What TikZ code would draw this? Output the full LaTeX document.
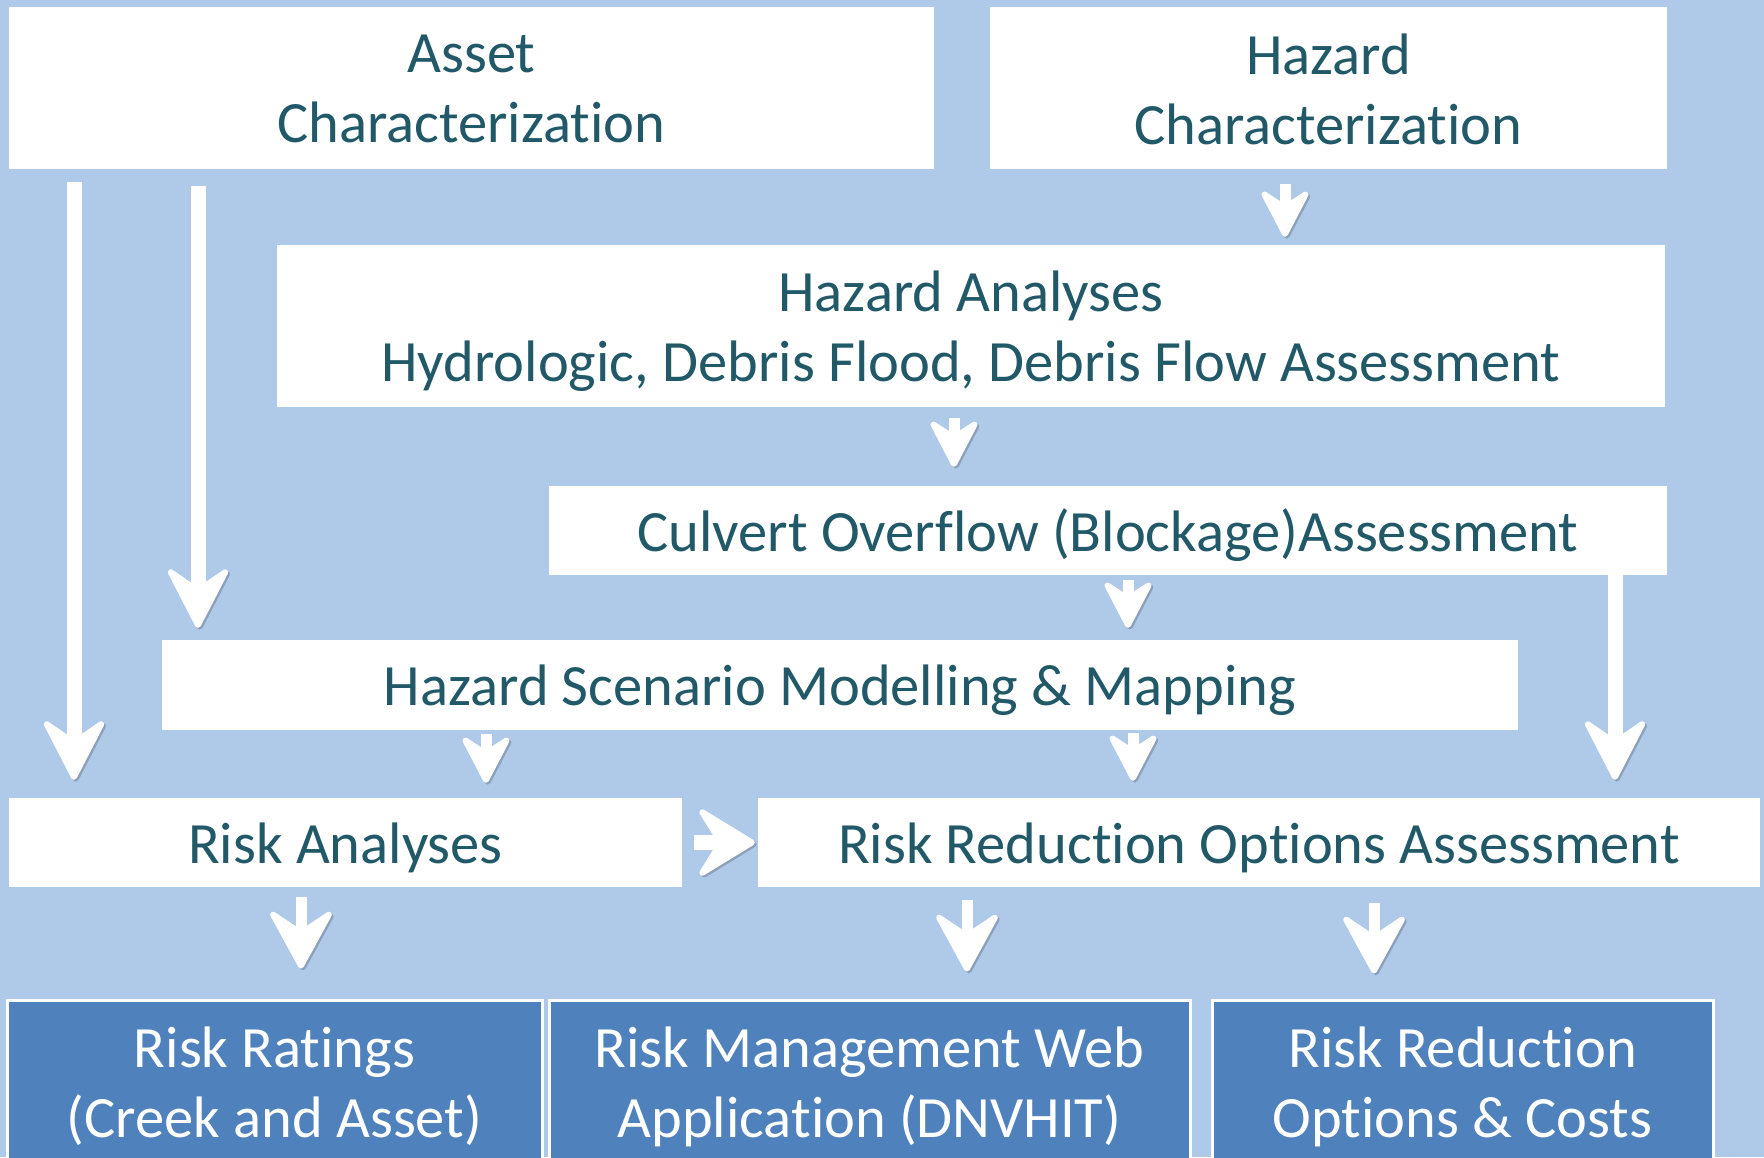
\documentclass[tikz,border=0pt]{standalone}
\usepackage{fontspec}
\setmainfont{Carlito}[Ligatures=NoCommon]
\usetikzlibrary{arrows.meta}
\definecolor{bg}{HTML}{AFC9E9}
\definecolor{ink}{HTML}{215968}
\definecolor{deep}{HTML}{4F81BD}
\begin{document}
\begin{tikzpicture}[x=1pt,y=-1pt,
  txt/.style={font=\fontsize{58.5}{70}\selectfont, align=center, inner sep=0pt},
  whitebox/.style={fill=white, draw=none, inner sep=0pt},
  bluebox/.style={fill=deep, draw=white, line width=3pt, inner sep=0pt},
  dark/.style={txt, text=ink, yshift=-5pt},
  darkhigh/.style={txt, text=ink, yshift=-1pt},
  light/.style={txt, text=white, yshift=-3.5pt},
  shade/.style={preaction={draw=black, draw opacity=.2, fill opacity=.2,
      transform canvas={shift={(1.8pt,-1.8pt)}}}},
  bigarr/.style={draw=white, line width=15pt, shade,
      -{Stealth[length=68pt,width=70pt,inset=24pt,line width=6pt,round]}},
  midarr/.style={draw=white, line width=11pt, shade,
      -{Stealth[length=66pt,width=72pt,inset=24pt,line width=6pt,round]}},
  sidearr/.style={draw=white, line width=15pt, shade,
      -{Stealth[length=64pt,width=78pt,inset=24pt,line width=6pt,round]}},
  smallarr/.style={draw=white, line width=11pt, shade,
      -{Stealth[length=54pt,width=56pt,inset=18pt,line width=6pt,round]}}]

% canvas
\fill[bg] (0,0) rectangle (1764,1157);
\useasboundingbox (0,0) rectangle (1764,1157);

% process boxes
\node[whitebox, minimum width=925, minimum height=162,
  label={[darkhigh]center:{Asset\\Characterization}}] (asset) at (471.5,88) {};
\node[whitebox, minimum width=677, minimum height=162,
  label={[darkhigh]center:{Hazard\\Characterization}}] (hc) at (1328.5,88) {};
\node[whitebox, minimum width=1388, minimum height=162,
  label={[dark]center:{Hazard Analyses\\Hydrologic, Debris Flood, Debris Flow Assessment}}] (ha) at (971,326) {};
\node[whitebox, minimum width=1118, minimum height=89,
  label={[dark]center:{Culvert Overflow (Blockage)Assessment}}] (cul) at (1108,530.5) {};
\node[whitebox, minimum width=1356, minimum height=90,
  label={[dark]center:{Hazard Scenario Modelling \& Mapping}}] (hs) at (840,685) {};
\node[whitebox, minimum width=673, minimum height=89,
  label={[dark]center:{Risk Analyses}}] (ra) at (345.5,842.5) {};
\node[whitebox, minimum width=1002, minimum height=89,
  label={[dark]center:{Risk Reduction Options Assessment}}] (rroa) at (1259,842.5) {};

% deliverables
\node[bluebox, minimum width=535, minimum height=166,
  label={[light]center:{Risk Ratings\\(Creek and Asset)}}] (rr) at (274.5,1083) {};
\node[bluebox, minimum width=641, minimum height=166,
  label={[light]center:{Risk Management Web\\Application (DNVHIT)}}] (rm) at (869.5,1083) {};
\node[bluebox, minimum width=501, minimum height=166,
  label={[light]center:{Risk Reduction\\Options \& Costs}}] (ro) at (1462.5,1083) {};

% arrow columns
\coordinate (x1) at (74,0);
\coordinate (x2) at (198,0);
\coordinate (x3) at (1285,0);
\coordinate (x4) at (954,0);
\coordinate (x5) at (1128,0);
\coordinate (x6) at (1615,0);
\coordinate (x7) at (486,0);
\coordinate (x8) at (1133,0);
\coordinate (x9) at (301,0);
\coordinate (x10) at (967,0);
\coordinate (x11) at (1374,0);

% connectors
\draw[bigarr, shorten <=13pt, shorten >=18pt] (asset.south -| x1) -- (ra.north -| x1);
\draw[bigarr, shorten <=17pt, shorten >=12pt] (asset.south -| x2) -- (hs.north -| x2);
\draw[smallarr, shorten <=15pt, shorten >=8pt] (hc.south -| x3) -- (ha.north -| x3);
\draw[smallarr, shorten <=11pt, shorten >=19pt] (ha.south -| x4) -- (cul.north -| x4);
\draw[smallarr, shorten <=5pt, shorten >=12pt] (cul.south -| x5) -- (hs.north -| x5);
\draw[bigarr, shorten <=0pt, shorten >=18pt] (cul.south -| x6) -- (rroa.north -| x6);
\draw[smallarr, shorten <=4pt, shorten >=15pt] (hs.south -| x7) -- (ra.north -| x7);
\draw[smallarr, shorten <=3pt, shorten >=17pt] (hs.south -| x8) -- (rroa.north -| x8);
\draw[sidearr, shorten <=12pt, shorten >=3pt] (ra.east) -- (rroa.west);
\draw[midarr, shorten <=10pt, shorten >=30pt] (ra.south -| x9) -- (rr.north -| x9);
\draw[midarr, shorten <=13pt, shorten >=27pt] (rroa.south -| x10) -- (rm.north -| x10);
\draw[midarr, shorten <=16pt, shorten >=25pt] (rroa.south -| x11) -- (ro.north -| x11);
\end{tikzpicture}
\end{document}
